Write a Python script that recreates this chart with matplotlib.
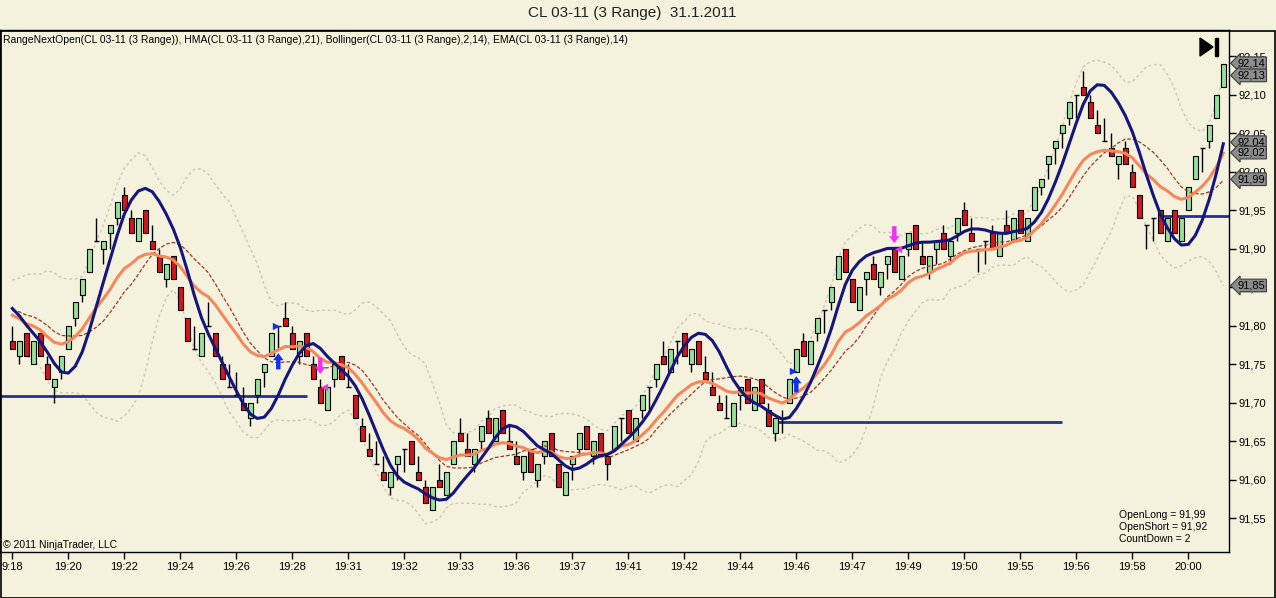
import numpy as np
import pandas as pd
import matplotlib
matplotlib.use('Agg')
import matplotlib.pyplot as plt
from matplotlib.patches import Rectangle, Polygon

plt.rcParams['font.family'] = ['Liberation Sans', 'DejaVu Sans']

# --- range bars (3 ticks) ---
opens = [91.78, 91.76, 91.79, 91.75, 91.79, 91.75, 91.72, 91.74, 91.77, 91.81,
         91.84, 91.87, 91.91, 91.90, 91.92, 91.94, 91.97, 91.94, 91.91, 91.95,
         91.91, 91.89, 91.86, 91.89, 91.85, 91.81, 91.77, 91.76, 91.80, 91.79,
         91.75, 91.72, 91.71, 91.70, 91.68, 91.71, 91.74, 91.76, 91.80, 91.81,
         91.79, 91.76, 91.79, 91.75, 91.72, 91.69, 91.73, 91.76, 91.72, 91.71,
         91.67, 91.64, 91.62, 91.61, 91.59, 91.62, 91.64, 91.65, 91.61, 91.59,
         91.56, 91.60, 91.58, 91.62, 91.66, 91.64, 91.62, 91.65, 91.68, 91.65,
         91.69, 91.65, 91.63, 91.61, 91.64, 91.60, 91.63, 91.66, 91.62, 91.58,
         91.62, 91.64, 91.67, 91.63, 91.66, 91.63, 91.64, 91.68, 91.69, 91.65,
         91.69, 91.72, 91.73, 91.76, 91.74, 91.78, 91.79, 91.75, 91.78, 91.74,
         91.72, 91.70, 91.68, 91.67, 91.71, 91.73, 91.69, 91.73, 91.69, 91.66,
         91.68, 91.70, 91.74, 91.78, 91.75, 91.79, 91.82, 91.83, 91.86, 91.90,
         91.86, 91.82, 91.86, 91.88, 91.85, 91.88, 91.90, 91.86, 91.90, 91.93,
         91.89, 91.87, 91.90, 91.92, 91.89, 91.92, 91.95, 91.92, 91.90, 91.91,
         91.92, 91.89, 91.93, 91.91, 91.95, 91.91, 91.95, 91.98, 92.01, 92.03,
         92.05, 92.07, 92.10, 92.11, 92.09, 92.06, 92.04, 92.03, 92.01, 92.03,
         92.00, 91.97, 91.93, 91.94, 91.95, 91.91, 91.95, 91.91, 91.95, 91.99,
         92.03, 92.04, 92.07, 92.11]
highs = [91.80, 91.78, 91.79, 91.78, 91.79, 91.76, 91.73, 91.76, 91.80, 91.83,
         91.86, 91.90, 91.94, 91.91, 91.93, 91.96, 91.98, 91.95, 91.94, 91.95,
         91.93, 91.90, 91.88, 91.89, 91.85, 91.81, 91.80, 91.79, 91.83, 91.79,
         91.76, 91.75, 91.74, 91.72, 91.70, 91.73, 91.75, 91.79, 91.80, 91.83,
         91.80, 91.78, 91.79, 91.76, 91.73, 91.72, 91.75, 91.76, 91.75, 91.71,
         91.68, 91.66, 91.65, 91.63, 91.61, 91.63, 91.64, 91.65, 91.63, 91.60,
         91.59, 91.62, 91.61, 91.65, 91.68, 91.66, 91.64, 91.67, 91.69, 91.68,
         91.69, 91.67, 91.65, 91.63, 91.64, 91.62, 91.65, 91.66, 91.62, 91.61,
         91.63, 91.66, 91.67, 91.65, 91.66, 91.63, 91.67, 91.68, 91.69, 91.68,
         91.71, 91.72, 91.75, 91.78, 91.77, 91.78, 91.79, 91.77, 91.78, 91.76,
         91.74, 91.71, 91.71, 91.70, 91.72, 91.73, 91.72, 91.73, 91.70, 91.68,
         91.69, 91.73, 91.77, 91.79, 91.78, 91.81, 91.82, 91.85, 91.89, 91.90,
         91.86, 91.85, 91.87, 91.89, 91.87, 91.89, 91.90, 91.89, 91.92, 91.93,
         91.91, 91.89, 91.91, 91.93, 91.91, 91.94, 91.96, 91.94, 91.90, 91.91,
         91.93, 91.92, 91.95, 91.94, 91.95, 91.94, 91.98, 91.99, 92.02, 92.04,
         92.06, 92.09, 92.10, 92.13, 92.10, 92.08, 92.07, 92.05, 92.02, 92.04,
         92.01, 91.97, 91.93, 91.94, 91.95, 91.94, 91.95, 91.94, 91.98, 92.02,
         92.03, 92.06, 92.10, 92.14]
lows = [91.77, 91.75, 91.76, 91.75, 91.76, 91.73, 91.70, 91.73, 91.77, 91.80,
        91.83, 91.87, 91.91, 91.88, 91.90, 91.93, 91.95, 91.92, 91.91, 91.92,
        91.90, 91.87, 91.85, 91.86, 91.82, 91.78, 91.77, 91.76, 91.80, 91.76,
        91.73, 91.72, 91.71, 91.69, 91.67, 91.70, 91.72, 91.76, 91.77, 91.80,
        91.77, 91.75, 91.76, 91.73, 91.70, 91.69, 91.72, 91.73, 91.72, 91.68,
        91.65, 91.63, 91.62, 91.60, 91.58, 91.60, 91.61, 91.62, 91.60, 91.57,
        91.56, 91.59, 91.58, 91.62, 91.65, 91.63, 91.61, 91.64, 91.66, 91.65,
        91.66, 91.64, 91.62, 91.60, 91.61, 91.59, 91.62, 91.63, 91.59, 91.58,
        91.60, 91.63, 91.64, 91.62, 91.63, 91.60, 91.64, 91.65, 91.66, 91.65,
        91.68, 91.69, 91.72, 91.75, 91.74, 91.75, 91.76, 91.74, 91.75, 91.73,
        91.71, 91.69, 91.68, 91.67, 91.69, 91.70, 91.69, 91.70, 91.67, 91.65,
        91.66, 91.70, 91.74, 91.76, 91.75, 91.78, 91.79, 91.82, 91.86, 91.87,
        91.83, 91.82, 91.84, 91.86, 91.84, 91.86, 91.87, 91.86, 91.89, 91.90,
        91.88, 91.86, 91.88, 91.90, 91.88, 91.91, 91.93, 91.91, 91.87, 91.88,
        91.90, 91.89, 91.92, 91.91, 91.92, 91.91, 91.95, 91.97, 91.99, 92.01,
        92.03, 92.06, 92.07, 92.10, 92.07, 92.05, 92.04, 92.02, 91.99, 92.01,
        91.98, 91.94, 91.90, 91.91, 91.92, 91.91, 91.92, 91.91, 91.95, 91.99,
        92.00, 92.03, 92.07, 92.11]
closes = [91.77, 91.78, 91.76, 91.78, 91.76, 91.73, 91.73, 91.76, 91.80, 91.83,
          91.86, 91.90, 91.91, 91.91, 91.93, 91.96, 91.95, 91.92, 91.94, 91.92,
          91.90, 91.87, 91.88, 91.86, 91.82, 91.78, 91.77, 91.79, 91.80, 91.76,
          91.73, 91.72, 91.71, 91.69, 91.70, 91.73, 91.75, 91.79, 91.80, 91.80,
          91.77, 91.78, 91.76, 91.73, 91.70, 91.72, 91.75, 91.73, 91.72, 91.68,
          91.65, 91.63, 91.62, 91.60, 91.61, 91.63, 91.64, 91.62, 91.60, 91.57,
          91.59, 91.59, 91.61, 91.65, 91.65, 91.63, 91.64, 91.67, 91.66, 91.68,
          91.66, 91.64, 91.62, 91.63, 91.61, 91.62, 91.65, 91.63, 91.59, 91.61,
          91.63, 91.66, 91.64, 91.65, 91.63, 91.62, 91.67, 91.68, 91.66, 91.68,
          91.71, 91.72, 91.75, 91.75, 91.77, 91.78, 91.76, 91.77, 91.75, 91.73,
          91.71, 91.69, 91.68, 91.70, 91.72, 91.70, 91.72, 91.70, 91.67, 91.68,
          91.68, 91.73, 91.77, 91.76, 91.78, 91.81, 91.82, 91.85, 91.89, 91.87,
          91.83, 91.85, 91.87, 91.86, 91.87, 91.89, 91.87, 91.89, 91.92, 91.90,
          91.88, 91.89, 91.91, 91.90, 91.91, 91.94, 91.93, 91.91, 91.90, 91.91,
          91.90, 91.92, 91.92, 91.94, 91.92, 91.94, 91.98, 91.99, 92.02, 92.04,
          92.06, 92.09, 92.10, 92.10, 92.07, 92.05, 92.04, 92.02, 92.02, 92.01,
          91.98, 91.94, 91.93, 91.94, 91.92, 91.94, 91.92, 91.94, 91.98, 92.02,
          92.03, 92.06, 92.10, 92.14]

# closes before the first visible bar, estimated from where the indicators start
prior_closes = [91.80, 91.82, 91.81, 91.83, 91.82, 91.84, 91.83, 91.81, 91.83,
                91.85, 91.84, 91.82, 91.80]

time_labels = ['9:18', '19:20', '19:22', '19:24', '19:26', '19:28', '19:31', '19:32',
               '19:33', '19:36', '19:37', '19:41', '19:42', '19:44', '19:46', '19:47',
               '19:49', '19:50', '19:55', '19:56', '19:58', '20:00']
label_every = 8

# RangeNextOpen levels: (first bar, last bar, price)
next_open_start = [-2.0, 108.7, 164.0]
next_open_end = [42.1, 150.0, 175.0]
next_open_price = [91.708, 91.675, 91.942]

# signal markers
long_bars = [38, 112]
long_tail = [91.743, 91.713]
long_head = [91.764, 91.734]
long_tri_bars = [37.6, 111.6]
long_tri_price = [91.800, 91.741]
short_bars = [44, 126]
short_tail = [91.758, 91.929]
short_head = [91.737, 91.907]
short_tri_bars = [44.5, 126.5]
short_tri_price = [91.720, 91.899]

# price markers on the right axis: value, shift in px to avoid overlap
marker_values = [92.14, 92.13, 92.04, 92.02, 91.99, 91.85]
marker_shift = [0.5, -4, -1.5, 3.5, 0, 1.5]


def wma(values, period):
    out = np.empty(len(values))
    for i in range(len(values)):
        n = min(period, i + 1)
        w = np.arange(1, n + 1)
        out[i] = np.dot(values[i - n + 1:i + 1], w) / w.sum()
    return out


def hma(values, period):
    diff = 2 * wma(values, period // 2) - wma(values, period)
    return wma(diff, int(np.sqrt(period)))


all_close = pd.Series(prior_closes + closes)
skip = len(prior_closes)
ema14 = all_close.ewm(span=14, adjust=False).mean().values[skip:]
mid = all_close.rolling(14, min_periods=1).mean()
sd = all_close.rolling(14, min_periods=1).std(ddof=0)
bb_mid = mid.values[skip:]
bb_up = (mid + 2 * sd).values[skip:]
bb_lo = (mid - 2 * sd).values[skip:]
hma21 = hma(all_close.values, 21)[skip:]

o = np.array(opens)
h = np.array(highs)
l = np.array(lows)
c = np.array(closes)
x = np.arange(len(c))

BG = '#f4f2dc'
W, H = 1276, 598
fig = plt.figure(figsize=(W / 100, H / 100), dpi=100, facecolor=BG)
ax = fig.add_axes([0, 46 / H, 1229 / W, 522 / H], facecolor=BG)

# bollinger bands
ax.plot(x, bb_up, color='#c9c7b6', lw=1, ls=(0, (2, 2)), zorder=1)
ax.plot(x, bb_lo, color='#c9c7b6', lw=1, ls=(0, (2, 2)), zorder=1)
ax.plot(x, bb_mid, color='#9a3a22', lw=0.9, ls=(0, (3, 1.5)), zorder=4)

# next-open levels
for s, e, p in zip(next_open_start, next_open_end, next_open_price):
    ax.hlines(p, s, e, color='#25308f', lw=2, zorder=2)

# candles
ax.vlines(x, l, h, color='black', lw=1, zorder=3)
up = c > o
dn = c < o
eq = c == o
ax.bar(x[up], (c - o)[up], bottom=o[up], width=0.72, color='#98e09a',
       edgecolor='black', lw=0.8, zorder=3)
ax.bar(x[dn], (o - c)[dn], bottom=c[dn], width=0.72, color='#d4161a',
       edgecolor='black', lw=0.8, zorder=3)
ax.hlines(o[eq], x[eq] - 0.36, x[eq] + 0.36, color='black', lw=1, zorder=3)

# moving averages
ax.plot(x, ema14, color='#f5875c', lw=2.2, zorder=5)
ax.plot(x, hma21, color='#15167d', lw=2.2, zorder=6)

# signals
arrow_kw = dict(width=3.2, headwidth=7.5, headlength=5, shrink=0, lw=0)
for b, t, hd in zip(long_bars, long_tail, long_head):
    ax.annotate('', xy=(b, hd), xytext=(b, t),
                arrowprops=dict(arrow_kw, color='#1030f0'), zorder=7)
for b, t, hd in zip(short_bars, short_tail, short_head):
    ax.annotate('', xy=(b, hd), xytext=(b, t),
                arrowprops=dict(arrow_kw, color='#f032f0'), zorder=7)
ax.scatter(long_tri_bars, long_tri_price, marker='>', s=28, color='#1030f0', zorder=7, lw=0)
ax.scatter(short_tri_bars, short_tri_price, marker='<', s=28, color='#f032f0', zorder=7, lw=0)

# axes
ax.set_xlim(-12.3 / 7, -12.3 / 7 + 1229 / 7)
ax.set_ylim(92.15 - 496 / 770, 92.15 + 26 / 770)
yt = np.round(np.arange(91.55, 92.151, 0.05), 2)
ax.yaxis.tick_right()
ax.set_yticks(yt)
ax.set_yticklabels([f'{v:.2f}'.replace('.', ',') for v in yt])
xt = np.arange(len(time_labels)) * label_every
ax.set_xticks(xt)
ax.set_xticklabels(time_labels)
ax.tick_params(axis='both', direction='out', length=5, width=1, labelsize=8,
               colors='black', pad=2)
for sp in ax.spines.values():
    sp.set_color('black')
    sp.set_linewidth(1)

for v, s in zip(marker_values, marker_shift):
    ax.annotate(f'{v:.2f}'.replace('.', ','), xy=(1, v), xycoords=('axes fraction', 'data'),
                xytext=(6, s * 0.72), textcoords='offset points', ha='left', va='center',
                fontsize=8, annotation_clip=False, zorder=10,
                bbox=dict(boxstyle='larrow,pad=0.12', fc='#8c8c8c', ec='#3c3c3c', lw=0.8))

# outer panel frame
fig.patches.append(Rectangle((0.5 / W, 0.5 / H), (W - 1.5) / W, (H - 31) / H,
                             transform=fig.transFigure, fill=False, ec='black', lw=1.2))

# texts
fig.text(632 / W, 1 - 13 / H, 'CL 03-11 (3 Range)  31.1.2011', ha='center', va='center',
         fontsize=11, color='#222222')
fig.text(3 / W, 1 - 40 / H,
         'RangeNextOpen(CL 03-11 (3 Range)), HMA(CL 03-11 (3 Range),21), '
         'Bollinger(CL 03-11 (3 Range),2,14), EMA(CL 03-11 (3 Range),14)',
         ha='left', va='center', fontsize=7.5)
fig.text(3 / W, 1 - 545 / H, '\u00a9 2011 NinjaTrader, LLC', ha='left', va='center', fontsize=7.5)
for i, t in enumerate(['OpenLong = 91,99', 'OpenShort = 91,92', 'CountDown = 2']):
    fig.text(1119 / W, 1 - (515 + 12 * i) / H, t, ha='left', va='center', fontsize=7.5)

# go-to-end button
fig.patches.append(Polygon([[1200 / W, 1 - 38 / H], [1200 / W, 1 - 56 / H], [1213 / W, 1 - 47 / H]],
                           closed=True, transform=fig.transFigure, fc='black', ec='black'))
fig.patches.append(Rectangle((1215 / W, 1 - 56 / H), 3 / W, 18 / H,
                             transform=fig.transFigure, fc='black', ec='black'))

fig.savefig('out.png', dpi=100, facecolor=BG)
